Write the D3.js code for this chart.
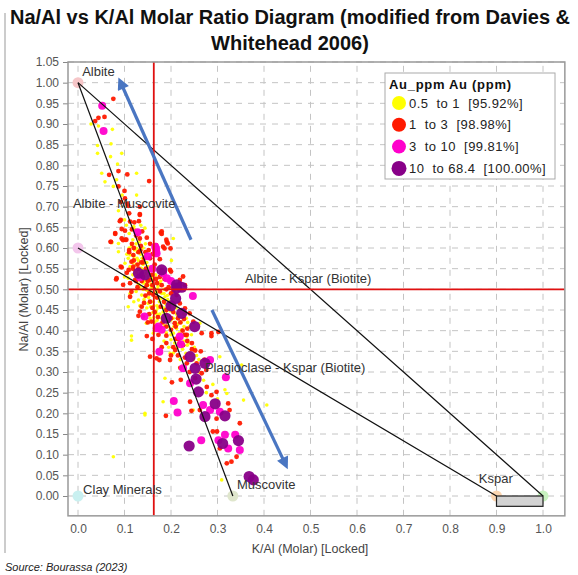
<!DOCTYPE html>
<html lang="en">
<head>
<meta charset="UTF-8">
<title>Na/Al vs K/Al</title>
<script src="https://cdn.jsdelivr.net/npm/d3@7"></script>
<style>
  body { margin: 0; background: #fff; }
  svg text { font-family: "Liberation Sans", Arial, sans-serif; }
</style>
</head>
<body>
<div id="plot"></div>
<script>
// --- data (K/Al, Na/Al) ---
let legendLabels = ['0.5  to 1  [95.92%]', '1  to 3  [98.98%]', '3  to 10  [99.81%]', '10  to 68.4  [100.00%]'];
let xTicks = [0, 0.1, 0.2, 0.3, 0.4, 0.5, 0.6, 0.7, 0.8, 0.9, 1.0];
let yTicks = [0, 0.05, 0.1, 0.15, 0.2, 0.25, 0.3, 0.35, 0.4, 0.45, 0.5, 0.55, 0.6, 0.65, 0.7, 0.75, 0.8, 0.85, 0.9, 0.95, 1.0, 1.05];

let au05to1 = [
  [0.028,0.90],[0.044,0.895],[0.074,0.887],[0.042,0.848],[0.071,0.852],[0.094,0.829],[0.042,0.829],[0.070,0.821],
  [0.085,0.803],[0.051,0.781],[0.126,0.781],[0.058,0.760],[0.083,0.765],[0.076,0.749],[0.095,0.728],[0.126,0.728],
  [0.087,0.69],[0.10,0.668],[0.104,0.655],[0.120,0.652],[0.144,0.648],[0.073,0.613],[0.087,0.591],[0.121,0.597],
  [0.201,0.57],[0.112,0.49],[0.262,0.418],[0.087,0.611],[0.205,0.623],[0.126,0.599],[0.112,0.583],[0.101,0.563],
  [0.136,0.551],[0.151,0.555],[0.151,0.531],[0.161,0.523],[0.108,0.527],[0.13,0.512],[0.137,0.486],[0.145,0.482],
  [0.13,0.474],[0.151,0.466],[0.161,0.444],[0.147,0.418],[0.183,0.426],[0.197,0.434],[0.187,0.482],[0.197,0.47],
  [0.208,0.458],[0.216,0.438],[0.233,0.430],[0.24,0.41],[0.223,0.402],[0.244,0.39],[0.115,0.387],[0.162,0.394],
  [0.205,0.394],[0.234,0.386],[0.205,0.346],[0.187,0.285],[0.276,0.25],[0.316,0.257],[0.356,0.232],[0.144,0.20],
  [0.183,0.228],[0.406,0.22],[0.144,0.196],[0.076,0.095],[0.108,0.458],[0.115,0.377],[0.248,0.208],[0.32,0.248],
  [0.305,0.337],[0.352,0.317],[0.309,0.039],
  [0.15,0.51],[0.16,0.49],[0.17,0.50],[0.155,0.495],[0.165,0.48],[0.175,0.47],[0.18,0.49],[0.145,0.52],
  [0.135,0.54],[0.125,0.56],[0.14,0.50],[0.17,0.46],[0.185,0.455],[0.19,0.44],[0.2,0.45],[0.205,0.43],
  [0.21,0.42],[0.18,0.43],[0.195,0.41],[0.16,0.53],[0.15,0.545],[0.13,0.57],[0.12,0.58],[0.11,0.60],
  [0.14,0.56],[0.158,0.505],[0.168,0.492],[0.178,0.478],[0.188,0.465],[0.198,0.448],[0.172,0.455],[0.162,0.47],
  [0.152,0.48],[0.142,0.475],[0.132,0.53],[0.122,0.545],[0.118,0.565],[0.128,0.59],[0.138,0.575],[0.148,0.565],
  [0.158,0.55],[0.175,0.515],[0.185,0.50],[0.192,0.485],[0.212,0.44],[0.222,0.42],[0.228,0.41],[0.212,0.405],
  [0.2,0.39],[0.19,0.395],[0.175,0.41],[0.165,0.42],[0.155,0.43],[0.17,0.44],[0.216,0.37],[0.225,0.355],
  [0.232,0.345],[0.195,0.36],[0.185,0.375],[0.24,0.37],[0.25,0.36],[0.255,0.34],[0.26,0.33],[0.22,0.33],
  [0.26,0.30],[0.27,0.28],[0.29,0.27],[0.3,0.235],
  [0.118,0.62],[0.125,0.61],[0.132,0.615],[0.14,0.60],[0.145,0.61],[0.115,0.605],[0.122,0.595],[0.135,0.585],
  [0.142,0.58],[0.127,0.575],[0.108,0.575],[0.112,0.555],[0.118,0.535],[0.126,0.54],[0.138,0.548],[0.146,0.538],
  [0.152,0.525],[0.141,0.515],[0.133,0.505],[0.125,0.495],[0.148,0.498],[0.157,0.513],[0.163,0.502],[0.172,0.507],
  [0.178,0.52],[0.167,0.535],[0.148,0.455],[0.156,0.458],[0.163,0.46],[0.168,0.448],[0.176,0.44],[0.183,0.445],
  [0.163,0.432],[0.17,0.425],[0.178,0.418],[0.186,0.412],[0.192,0.42],[0.199,0.425],[0.206,0.41],[0.214,0.415],
  [0.218,0.395],[0.226,0.39],[0.2,0.378],[0.208,0.37],[0.214,0.36],[0.228,0.375],[0.235,0.365],[0.198,0.345],
  [0.242,0.345],[0.248,0.33],[0.185,0.49],[0.193,0.475],[0.201,0.465],[0.211,0.455],[0.22,0.45],[0.228,0.44],
  [0.236,0.42],[0.133,0.46],[0.12,0.47],[0.1,0.53],[0.105,0.585],[0.098,0.62],[0.11,0.635],[0.122,0.645],
  [0.135,0.655]
];

let au1to3 = [
  [0.076,0.961],[0.044,0.915],[0.037,0.907],[0.057,0.917],[0.067,0.777],[0.087,0.786],[0.106,0.778],[0.087,0.749],
  [0.153,0.762],[0.100,0.738],[0.101,0.72],[0.092,0.711],[0.108,0.702],[0.133,0.70],[0.090,0.665],[0.112,0.664],
  [0.121,0.662],[0.131,0.665],[0.094,0.646],[0.101,0.642],[0.116,0.645],[0.18,0.64],[0.133,0.68],[0.106,0.707],
  [0.133,0.682],[0.11,0.684],[0.092,0.668],[0.080,0.636],[0.070,0.615],[0.097,0.619],[0.102,0.62],[0.110,0.595],
  [0.119,0.583],[0.133,0.623],[0.178,0.637],[0.191,0.615],[0.199,0.599],[0.186,0.599],[0.168,0.607],[0.176,0.573],
  [0.198,0.547],[0.094,0.553],[0.119,0.555],[0.14,0.565],[0.155,0.523],[0.18,0.547],[0.219,0.515],[0.226,0.531],
  [0.082,0.524],[0.133,0.446],[0.302,0.397],[0.08,0.634],[0.071,0.615],[0.094,0.623],[0.104,0.62],[0.183,0.603],
  [0.193,0.611],[0.18,0.634],[0.19,0.62],[0.134,0.594],[0.115,0.567],[0.092,0.555],[0.109,0.547],[0.2,0.543],
  [0.197,0.523],[0.123,0.523],[0.097,0.511],[0.083,0.527],[0.144,0.503],[0.115,0.494],[0.112,0.482],[0.137,0.458],
  [0.13,0.436],[0.153,0.44],[0.158,0.422],[0.19,0.41],[0.219,0.523],[0.23,0.51],[0.212,0.486],[0.219,0.466],
  [0.23,0.454],[0.24,0.442],[0.248,0.422],[0.208,0.418],[0.20,0.402],[0.266,0.394],[0.287,0.394],[0.23,0.39],
  [0.148,0.387],[0.19,0.388],[0.219,0.37],[0.209,0.353],[0.198,0.329],[0.234,0.39],[0.287,0.387],[0.155,0.337],
  [0.169,0.333],[0.255,0.321],[0.234,0.321],[0.266,0.297],[0.276,0.305],[0.252,0.285],[0.277,0.264],[0.287,0.244],
  [0.298,0.252],[0.202,0.275],[0.221,0.281],[0.189,0.194],[0.244,0.206],[0.262,0.208],[0.298,0.187],[0.323,0.224],
  [0.326,0.208],[0.348,0.176],[0.29,0.156],[0.299,0.156],[0.341,0.095],[0.32,0.079],[0.33,0.083],[0.305,0.115],
  [0.241,0.228],[0.175,0.329],[0.14,0.434],[0.15,0.52],[0.16,0.51],[0.17,0.515],[0.14,0.53],[0.13,0.55],
  [0.12,0.57],[0.11,0.59],[0.125,0.52],[0.145,0.485],[0.155,0.47],[0.17,0.48],[0.185,0.47],[0.195,0.455],
  [0.205,0.445],[0.215,0.43],[0.2,0.49],[0.19,0.5],[0.18,0.51],[0.165,0.56],[0.155,0.575],[0.145,0.59],
  [0.135,0.605],[0.196,0.465],[0.225,0.4],[0.235,0.375],[0.245,0.355],[0.21,0.38],[0.18,0.36],[0.16,0.38],
  [0.173,0.39],[0.264,0.35],[0.272,0.33],[0.24,0.3],[0.22,0.31],
  [0.125,0.63],[0.138,0.64],[0.148,0.625],[0.155,0.61],[0.152,0.595],[0.16,0.585],[0.143,0.575],[0.128,0.56],
  [0.136,0.565],[0.118,0.55],[0.105,0.54],[0.112,0.515],[0.128,0.505],[0.137,0.52],[0.148,0.51],[0.158,0.535],
  [0.168,0.525],[0.176,0.53],[0.186,0.525],[0.195,0.505],[0.205,0.495],[0.176,0.495],[0.162,0.487],[0.153,0.49],
  [0.142,0.467],[0.16,0.455],[0.178,0.458],[0.19,0.45],[0.172,0.433],[0.182,0.42],[0.2,0.43],[0.21,0.41],
  [0.22,0.42],[0.228,0.428],[0.235,0.405],[0.216,0.38],[0.226,0.365],[0.205,0.36],[0.19,0.37],[0.245,0.37],
  [0.252,0.352],[0.2,0.34],[0.215,0.34],[0.23,0.335],[0.165,0.445],[0.15,0.42],[0.116,0.61],[0.13,0.59],
  [0.12,0.6],[0.146,0.55]
];

let au3to10 = [
  [0.052,0.944],[0.055,0.883],[0.128,0.638],[0.168,0.599],[0.168,0.591],[0.133,0.529],[0.247,0.484],[0.166,0.603],
  [0.169,0.587],[0.183,0.539],[0.191,0.527],[0.2,0.52],[0.143,0.434],[0.169,0.406],[0.18,0.402],[0.219,0.386],
  [0.221,0.367],[0.175,0.349],[0.284,0.329],[0.226,0.309],[0.318,0.287],[0.241,0.273],[0.206,0.23],[0.214,0.202],
  [0.269,0.22],[0.284,0.208],[0.305,0.204],[0.316,0.148],[0.265,0.135],[0.302,0.135],[0.338,0.148],[0.348,0.111],
  [0.323,0.115],[0.173,0.41],[0.16,0.55],[0.15,0.58]
];

let au10to68 = [
  [0.212,0.511],[0.13,0.539],[0.144,0.535],[0.18,0.547],[0.212,0.503],[0.223,0.505],[0.21,0.478],[0.223,0.442],
  [0.251,0.41],[0.241,0.337],[0.273,0.321],[0.252,0.309],[0.254,0.283],[0.259,0.252],[0.295,0.223],[0.273,0.192],
  [0.316,0.194],[0.239,0.121],[0.311,0.127],[0.345,0.134],[0.368,0.047],[0.377,0.039],[0.2,0.46],[0.19,0.43]
];

// end members and tie lines
let endMembers = [[0, 1], [0, 0.6], [0, 0], [0.333, 0], [0.9, 0], [1, 0]];
let tieLines = [[[0, 1], [1, 0]], [[0, 1], [0.333, 0]], [[0, 0.6], [0.9, 0]]];
let kLine = 0.163, naLine = 0.5;
let arrows = [[[0.243, 0.62], [0.086, 1.015]], [[0.288, 0.45], [0.452, 0.063]]];
let labels = [
  ['Albite', 0.009, 1.017], ['Albite - Muscovite', -0.011, 0.697], ['Albite - Kspar (Biotite)', 0.359, 0.515],
  ['Plagioclase - Kspar (Biotite)', 0.273, 0.30], ['Muscovite', 0.342, 0.017], ['Clay Minerals', 0.011, 0.005],
  ['Kspar', 0.862, 0.031]
];

// --- layout ---
let svgWidth = 578, svgHeight = 575;
let x = d3.scaleLinear().domain([0, 1]).range([78, 543]);
let y = d3.scaleLinear().domain([0, 1.05]).range([496, 62]);
let xLo = -0.0215, xHi = 1.047, yLo = -0.048, yHi = 1.05;

let colors = ['#ffff00', '#ff1a00', '#ff00cc', '#880088'];
let radii = [1.8, 2.4, 4, 5.6];
let endColors = ['#f6c6c8', '#f3c6ec', '#c9f0f0', '#dfe6cc', '#fbd5b0', '#c8f2c0'];

let svg = d3.select('#plot').append('svg')
  .attr('width', svgWidth).attr('height', svgHeight);

// title
svg.append('text').attr('x', 290).attr('y', 24).attr('text-anchor', 'middle')
  .attr('font-size', 20).attr('font-weight', 'bold').attr('fill', '#111')
  .text('Na/Al vs K/Al Molar Ratio Diagram (modified from Davies &');
svg.append('text').attr('x', 290).attr('y', 50).attr('text-anchor', 'middle')
  .attr('font-size', 20).attr('font-weight', 'bold').attr('fill', '#111')
  .text('Whitehead 2006)');

// left rule and source
svg.append('line').attr('x1', 5).attr('x2', 5).attr('y1', 13).attr('y2', 553)
  .attr('stroke', '#999').attr('stroke-width', 1);
svg.append('text').attr('x', 5).attr('y', 571).attr('font-size', 11)
  .attr('font-style', 'italic').attr('fill', '#222').text('Source: Bourassa (2023)');

let plot = svg.append('g');
let clipId = 'clip';
svg.append('clipPath').attr('id', clipId).append('rect')
  .attr('x', x(xLo)).attr('y', y(yHi)).attr('width', x(xHi) - x(xLo)).attr('height', y(yLo) - y(yHi));

// grid
plot.selectAll('.gx').data(xTicks).enter().append('line')
  .attr('x1', d => x(d)).attr('x2', d => x(d)).attr('y1', y(yLo)).attr('y2', y(yHi))
  .attr('stroke', '#c4c4c4').attr('stroke-dasharray', '6,6');
plot.selectAll('.gy').data(yTicks).enter().append('line')
  .attr('x1', x(xLo)).attr('x2', x(xHi)).attr('y1', d => y(d)).attr('y2', d => y(d))
  .attr('stroke', '#c4c4c4').attr('stroke-dasharray', '6,6');

// axes
let xAxis = d3.axisBottom(x).tickValues(xTicks).tickFormat(d3.format('.1f')).tickSize(0).tickPadding(9);
let yAxis = d3.axisLeft(y).tickValues(yTicks).tickFormat(d3.format('.2f')).tickSize(5).tickPadding(4);
let gx = plot.append('g').attr('transform', 'translate(0,' + y(yLo) + ')').call(xAxis);
let gy = plot.append('g').attr('transform', 'translate(' + x(xLo) + ',0)').call(yAxis);
[gx, gy].forEach(g => {
  g.select('.domain').remove();
  g.selectAll('text').attr('font-size', 12).attr('fill', '#555')
    .attr('font-family', '"Liberation Sans", Arial, sans-serif');
  g.selectAll('line').attr('stroke', '#888');
});

svg.append('text').attr('x', 310).attr('y', 553).attr('text-anchor', 'middle')
  .attr('font-size', 12.5).attr('fill', '#444').text('K/Al (Molar) [Locked]');
svg.append('text').attr('transform', 'translate(28,' + y(0.5) + ') rotate(-90)')
  .attr('text-anchor', 'middle').attr('font-size', 12.5).attr('fill', '#444')
  .text('Na/Al (Molar) [Locked]');

// end member markers
let inner = plot.append('g').attr('clip-path', 'url(#' + clipId + ')');
inner.selectAll('.em').data(endMembers).enter().append('circle')
  .attr('cx', d => x(d[0])).attr('cy', d => y(d[1])).attr('r', 5.5)
  .attr('fill', (d, i) => endColors[i]);

// points
[au05to1, au1to3, au3to10, au10to68].forEach((series, k) => {
  inner.append('g').selectAll('circle').data(series).enter().append('circle')
    .attr('cx', d => x(d[0])).attr('cy', d => y(d[1])).attr('r', radii[k])
    .attr('fill', colors[k]).attr('fill-opacity', 0.95);
});

// Kspar box
inner.append('rect').attr('x', x(0.9)).attr('y', y(0)).attr('width', x(1) - x(0.9))
  .attr('height', y(-0.025) - y(0)).attr('fill', '#d3d3d3').attr('stroke', '#222').attr('stroke-width', 1.2);

// tie lines
inner.selectAll('.tie').data(tieLines).enter().append('line')
  .attr('x1', d => x(d[0][0])).attr('y1', d => y(d[0][1]))
  .attr('x2', d => x(d[1][0])).attr('y2', d => y(d[1][1]))
  .attr('stroke', '#111').attr('stroke-width', 1.2);

// red reference lines
inner.append('line').attr('x1', x(kLine)).attr('x2', x(kLine)).attr('y1', y(yLo)).attr('y2', y(yHi))
  .attr('stroke', '#e01010').attr('stroke-width', 1.8);
inner.append('line').attr('x1', x(xLo)).attr('x2', x(xHi)).attr('y1', y(naLine)).attr('y2', y(naLine))
  .attr('stroke', '#e01010').attr('stroke-width', 1.8);

// frame
plot.append('rect').attr('x', x(xLo)).attr('y', y(yHi)).attr('width', x(xHi) - x(xLo))
  .attr('height', y(yLo) - y(yHi)).attr('fill', 'none').attr('stroke', '#999').attr('stroke-width', 1.5);

// arrows
svg.append('defs').append('marker').attr('id', 'head')
  .attr('viewBox', '0 0 10 10').attr('refX', 2).attr('refY', 5)
  .attr('markerWidth', 4.5).attr('markerHeight', 3.8).attr('orient', 'auto')
  .append('path').attr('d', 'M0,0 L10,5 L0,10 Z').attr('fill', '#4a76c2');
inner.selectAll('.arrow').data(arrows).enter().append('line')
  .attr('x1', d => x(d[0][0])).attr('y1', d => y(d[0][1]))
  .attr('x2', d => x(d[1][0]) - (x(d[1][0]) - x(d[0][0])) * 0.06)
  .attr('y2', d => y(d[1][1]) - (y(d[1][1]) - y(d[0][1])) * 0.06)
  .attr('stroke', '#4a76c2').attr('stroke-width', 3.2).attr('marker-end', 'url(#head)');

// labels
plot.selectAll('.lab').data(labels).enter().append('text')
  .attr('x', d => x(d[1])).attr('y', d => y(d[2]))
  .attr('font-size', 13).attr('fill', '#333').text(d => d[0]);

// legend
let lg = svg.append('g').attr('transform', 'translate(385,73)');
lg.append('rect').attr('width', 170).attr('height', 106).attr('fill', '#fff')
  .attr('stroke', '#aaa');
lg.append('text').attr('x', 4).attr('y', 16).attr('font-size', 13).attr('font-weight', 'bold')
  .attr('letter-spacing', 0.7)
  .attr('font-family', '"DejaVu Sans", Verdana, sans-serif').attr('fill', '#111')
  .text('Au_ppm Au (ppm)');
let items = lg.selectAll('.item').data(legendLabels).enter().append('g')
  .attr('transform', (d, i) => 'translate(0,' + (30 + i * 21.8) + ')');
items.append('circle').attr('cx', 14).attr('r', (d, i) => i === 3 ? 7.5 : 7)
  .attr('fill', (d, i) => colors[i]);
items.append('text').attr('x', 24).attr('y', 4.5).attr('font-size', 13)
  .attr('letter-spacing', 0.45)
  .attr('font-family', '"DejaVu Sans", Verdana, sans-serif').attr('fill', '#222')
  .style('white-space', 'pre').text(d => d);
</script>
</body>
</html>
